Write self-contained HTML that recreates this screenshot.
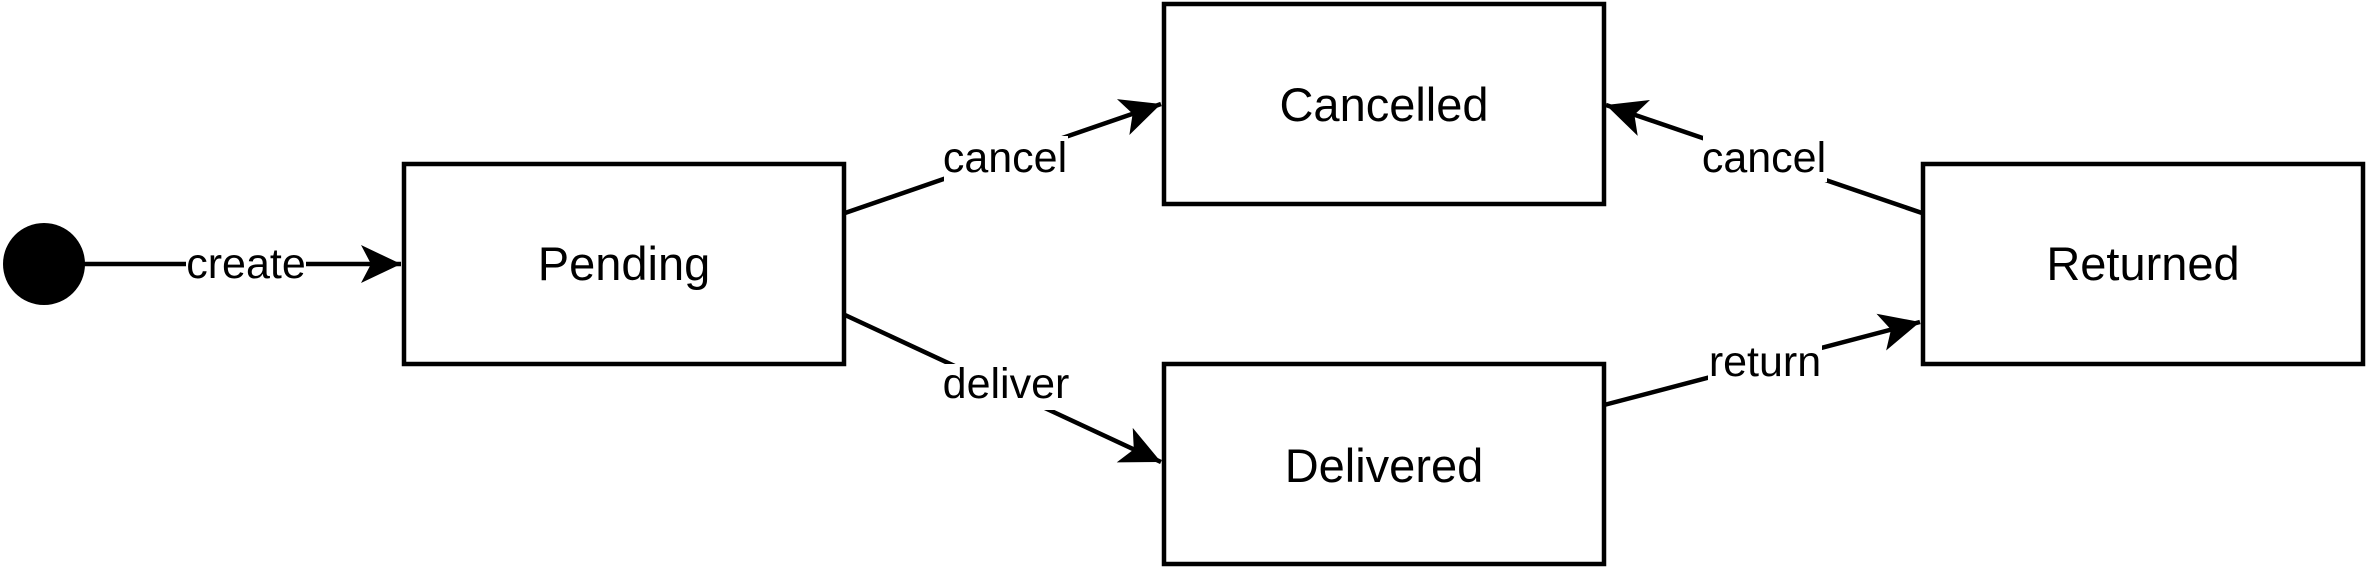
<!DOCTYPE html>
<html><head><style>
html,body{margin:0;padding:0;background:#fff;}
svg{display:block;}
text{font-family:"Liberation Sans",Arial,sans-serif;fill:#000;}
</style></head><body>
<svg width="2368" height="567" viewBox="0 0 2368 567" xmlns="http://www.w3.org/2000/svg">
<defs>
<marker id="a" markerUnits="userSpaceOnUse" markerWidth="44" markerHeight="44" viewBox="-42 -22 44 44" refX="0" refY="0" orient="auto">
<path d="M0,0 L-40,-19 L-30,0 L-40,19 Z" fill="#000"/>
</marker>
</defs>
<g stroke="#000" stroke-width="4.5" fill="none">
<line x1="84" y1="264" x2="401" y2="264" marker-end="url(#a)"/>
<line x1="845" y1="213" x2="1161" y2="104" marker-end="url(#a)"/>
<line x1="845" y1="315" x2="1161" y2="462" marker-end="url(#a)"/>
<line x1="1922" y1="213" x2="1606" y2="105" marker-end="url(#a)"/>
<line x1="1604" y1="405" x2="1920" y2="322" marker-end="url(#a)"/>
<rect x="404" y="164" width="440" height="200" fill="#fff"/>
<rect x="1164" y="4" width="440" height="200" fill="#fff"/>
<rect x="1164" y="364" width="440" height="200" fill="#fff"/>
<rect x="1923" y="164" width="440" height="200" fill="#fff"/>
</g>
<circle cx="44" cy="264" r="41" fill="#000"/>
<g fill="#fff">
<rect x="186" y="244" width="120" height="38"/>
<rect x="944" y="136" width="124" height="46"/>
<rect x="942" y="364" width="128" height="46"/>
<rect x="1703" y="136" width="124" height="46"/>
<rect x="1708" y="342" width="114" height="42"/>
</g>
<g font-size="43" text-anchor="middle">
<text x="246" y="278">create</text>
<text x="1005" y="172">cancel</text>
<text x="1006" y="398">deliver</text>
<text x="1764" y="172">cancel</text>
<text x="1765" y="376">return</text>
</g>
<g font-size="47" text-anchor="middle">
<text x="624" y="280">Pending</text>
<text x="1384" y="121">Cancelled</text>
<text x="1384" y="482">Delivered</text>
<text x="2143" y="280">Returned</text>
</g>
</svg>
</body></html>
